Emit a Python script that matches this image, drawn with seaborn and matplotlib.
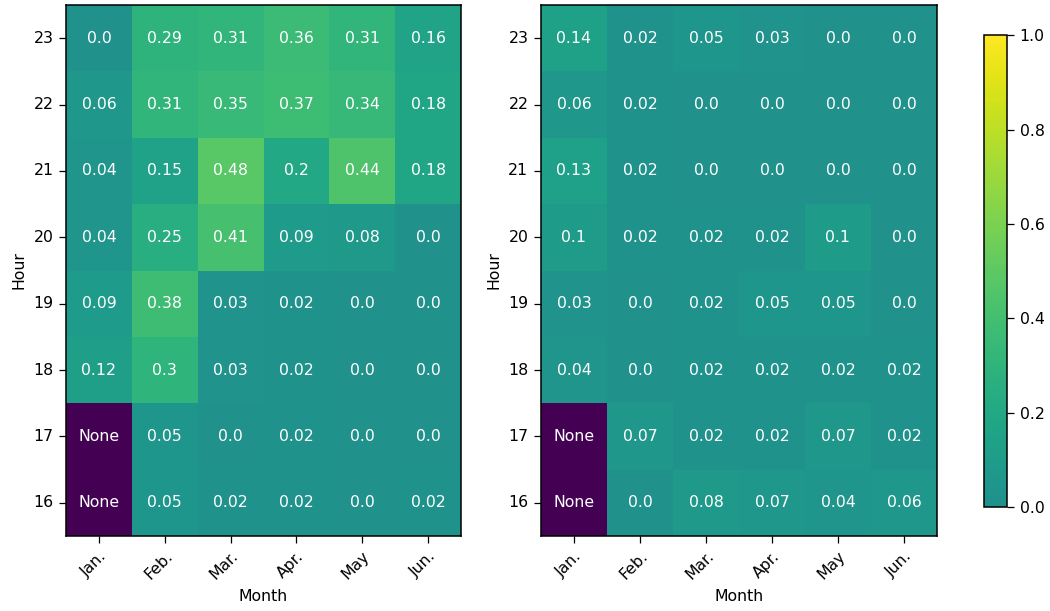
import numpy as np
import pandas as pd
import matplotlib
matplotlib.use("Agg")
import matplotlib.pyplot as plt
from matplotlib.colors import ListedColormap, Normalize
from matplotlib.cm import ScalarMappable
import seaborn as sns

months = ["Jan.", "Feb.", "Mar.", "Apr.", "May", "Jun."]
hours = [23, 22, 21, 20, 19, 18, 17, 16]

# rows go from hour 23 (top) down to 16
left_vals = [
    [0.0, 0.29, 0.31, 0.36, 0.31, 0.16],
    [0.06, 0.31, 0.35, 0.37, 0.34, 0.18],
    [0.04, 0.15, 0.48, 0.2, 0.44, 0.18],
    [0.04, 0.25, 0.41, 0.09, 0.08, 0.0],
    [0.09, 0.38, 0.03, 0.02, 0.0, 0.0],
    [0.12, 0.3, 0.03, 0.02, 0.0, 0.0],
    [None, 0.05, 0.0, 0.02, 0.0, 0.0],
    [None, 0.05, 0.02, 0.02, 0.0, 0.02],
]
right_vals = [
    [0.14, 0.02, 0.05, 0.03, 0.0, 0.0],
    [0.06, 0.02, 0.0, 0.0, 0.0, 0.0],
    [0.13, 0.02, 0.0, 0.0, 0.0, 0.0],
    [0.1, 0.02, 0.02, 0.02, 0.1, 0.0],
    [0.03, 0.0, 0.02, 0.05, 0.05, 0.0],
    [0.04, 0.0, 0.02, 0.02, 0.02, 0.02],
    [None, 0.07, 0.02, 0.02, 0.07, 0.02],
    [None, 0.0, 0.08, 0.07, 0.04, 0.06],
]

plt.rcParams["font.size"] = 11.3
plt.rcParams["xtick.major.size"] = 4.8
plt.rcParams["ytick.major.size"] = 4.8
plt.rcParams["xtick.major.pad"] = 4.2
plt.rcParams["ytick.major.pad"] = 4.2
plt.rcParams["xtick.major.width"] = 0.9
plt.rcParams["ytick.major.width"] = 0.9
plt.rcParams["axes.labelpad"] = 4.8


def draw(ax, vals):
    # None cells are coloured as -1 so they end up at the dark end of viridis
    num = np.array([[-1.0 if v is None else v for v in row] for row in vals])
    labels = np.array([[str(v) for v in row] for row in vals])
    df = pd.DataFrame(num, index=hours, columns=months)
    sns.heatmap(df, ax=ax, cmap="viridis", vmin=-1, vmax=1, cbar=False,
                annot=labels, fmt="", annot_kws={"color": "w", "size": 11.3})
    for s in ax.spines.values():
        s.set_visible(True)
        s.set_linewidth(1.1)
    ax.tick_params(axis="y", rotation=0)
    plt.setp(ax.get_xticklabels(), rotation=45, ha="right", rotation_mode="anchor")
    ax.set_xlabel("Month")
    ax.set_ylabel("Hour")


fig = plt.figure(figsize=(10.5, 6.11), dpi=100)
ax1 = fig.add_axes([0.0629, 0.1227, 0.3762, 0.8690])
ax2 = fig.add_axes([0.5152, 0.1227, 0.3771, 0.8690])
cax = fig.add_axes([0.9372, 0.170, 0.0219, 0.7725])

draw(ax1, left_vals)
draw(ax2, right_vals)

half = ListedColormap(plt.get_cmap("viridis")(np.linspace(0.5, 1, 256)))
sm = ScalarMappable(norm=Normalize(0, 1), cmap=half)
cb = fig.colorbar(sm, cax=cax)
cb.outline.set_linewidth(1.1)

fig.savefig("out.png", dpi=100)
